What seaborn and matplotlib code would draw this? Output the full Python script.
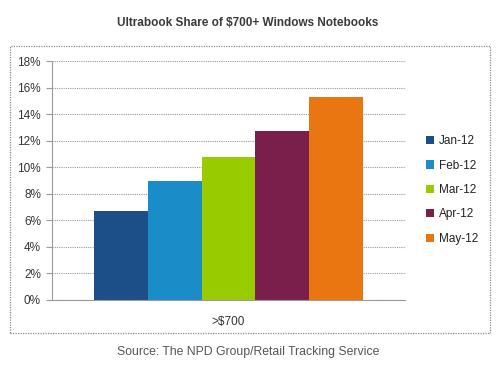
import pandas as pd
import seaborn as sns
import matplotlib.pyplot as plt
from matplotlib.patches import Rectangle
from matplotlib.ticker import FuncFormatter, MultipleLocator

months = ["Jan-12", "Feb-12", "Mar-12", "Apr-12", "May-12"]
share = [6.7, 9.0, 10.8, 12.7, 15.3]
group = [">$700"] * len(months)
colors = ["#1c4e87", "#1a8cc8", "#99cc00", "#7a1f4b", "#ea7611"]

df = pd.DataFrame({"group": group, "month": months, "share": share})

sns.set_style("white")
plt.rcParams["font.family"] = ["Liberation Sans", "DejaVu Sans"]

fig = plt.figure(figsize=(4.96, 3.72), dpi=100)
ax = fig.add_axes([52 / 496, 72 / 372, 353 / 496, 239 / 372])

sns.barplot(data=df, x="group", y="share", hue="month", palette=colors,
            width=0.76, saturation=1, linewidth=0, ax=ax, legend=True)

ax.set_ylim(0, 18)
ax.set_xlim(-0.5, 0.5)
ax.yaxis.set_major_locator(MultipleLocator(2))
ax.yaxis.set_major_formatter(FuncFormatter(lambda v, p: f"{v:.0f}%"))
ax.grid(axis="y", color="#9a9a9a", linestyle=(0, (1, 1)), linewidth=0.8)
ax.set_axisbelow(True)
for s in ["top", "right"]:
    ax.spines[s].set_visible(False)
ax.spines["left"].set_color("#9a9a9a")
ax.spines["bottom"].set_color("#9a9a9a")
ax.tick_params(axis="y", left=True, length=4, color="#9a9a9a", labelsize=8.5,
               labelcolor="#333333", pad=4)
ax.tick_params(axis="x", bottom=False, labelsize=8.5, labelcolor="#333333", pad=8)
ax.set_xlabel("")
ax.set_ylabel("")

ax.legend(loc="center left", bbox_to_anchor=(1.03, 0.46), frameon=False,
          fontsize=8.5, handlelength=0.7, handleheight=0.7, handletextpad=0.4,
          labelspacing=1.05, labelcolor="#222222")

fig.patches.append(Rectangle((10 / 496, 39 / 372), 480 / 496, 287 / 372,
                             transform=fig.transFigure, fill=False,
                             edgecolor="#8a8a8a", linewidth=0.9,
                             linestyle=(0, (1, 1))))

fig.text(0.5, 1 - 23 / 372, "Ultrabook Share of $700+ Windows Notebooks",
         ha="center", va="center", fontsize=8.5, fontweight="bold", color="#3a3a3a")
fig.text(0.5, 1 - 352 / 372, "Source: The NPD Group/Retail Tracking Service",
         ha="center", va="center", fontsize=8.8, color="#555555")

fig.savefig("out.png", dpi=100)
